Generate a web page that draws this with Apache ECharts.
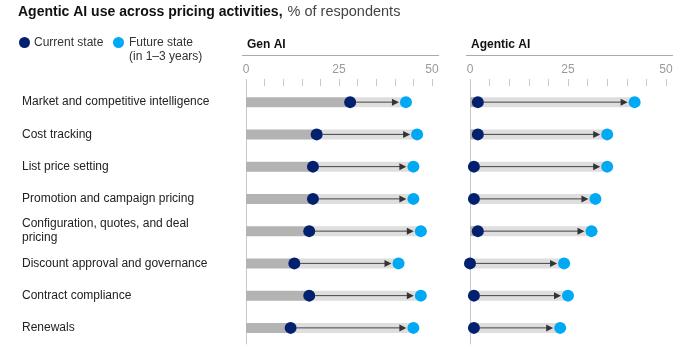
<!DOCTYPE html>
<html>
<head>
<meta charset="utf-8">
<script src="https://cdn.jsdelivr.net/npm/echarts@6/dist/echarts.min.js"></script>
<style>
  html, body { margin: 0; padding: 0; background: #fff; }
  #chart { width: 700px; height: 350px; }
</style>
</head>
<body>
<div id="chart"></div>
<script>
  var categories = [
    'Market and competitive intelligence',
    'Cost tracking',
    'List price setting',
    'Promotion and campaign pricing',
    'Configuration, quotes, and deal\npricing',
    'Discount approval and governance',
    'Contract compliance',
    'Renewals'
  ];
  var genCurrent = [28, 19, 18, 18, 17, 13, 17, 12];
  var genFuture = [43, 46, 45, 45, 47, 41, 47, 45];
  var agentCurrent = [2, 2, 1, 1, 2, 0, 1, 1];
  var agentFuture = [42, 35, 35, 32, 31, 24, 25, 23];
  var tickLabels = [0, 25, 50];

  var navy = '#03206f';
  var sky = '#00a9f4';
  var font = 'Liberation Sans, Arial, sans-serif';

  // arrow from current dot to future dot, in pixel space of the grid
  function arrowItem(params, api) {
    var c = api.coord([api.value(0), api.value(2)]);
    var f = api.coord([api.value(1), api.value(2)]);
    var r = 6;
    var x0 = c[0] + r;
    var x1 = f[0] - r - 1;
    var y = c[1];
    return {
      type: 'group',
      children: [
        {type: 'line', shape: {x1: x0, y1: y, x2: x1 - 5, y2: y}, style: {stroke: '#444', lineWidth: 1}},
        {type: 'polygon', shape: {points: [[x1 - 7, y - 3.5], [x1, y], [x1 - 7, y + 3.5]]}, style: {fill: '#333'}}
      ]
    };
  }

  function seriesFor(idx, cur, fut) {
    var arrows = cur.map(function (v, i) { return [v, fut[i], i]; });
    return [
      {
        type: 'bar', xAxisIndex: idx, yAxisIndex: idx, stack: 's' + idx, barWidth: 10,
        itemStyle: {color: '#b3b3b3'}, data: cur, silent: true
      },
      {
        type: 'bar', xAxisIndex: idx, yAxisIndex: idx, stack: 's' + idx, barWidth: 10,
        itemStyle: {color: '#dedede'}, data: fut.map(function (v, i) { return v - cur[i]; }), silent: true
      },
      {
        type: 'custom', xAxisIndex: idx, yAxisIndex: idx, renderItem: arrowItem,
        encode: {x: [0, 1], y: 2}, data: arrows, z: 3, silent: true
      },
      {
        name: 'Current state', type: 'scatter', xAxisIndex: idx, yAxisIndex: idx, symbolSize: 12, z: 4,
        itemStyle: {color: navy, opacity: 1}, data: cur.map(function (v, i) { return [v, i]; })
      },
      {
        name: 'Future state', type: 'scatter', xAxisIndex: idx, yAxisIndex: idx, symbolSize: 12, z: 4,
        itemStyle: {color: sky, opacity: 1}, data: fut.map(function (v, i) { return [v, i]; })
      }
    ];
  }

  function xAxisFor(idx) {
    return {
      type: 'value', gridIndex: idx, position: 'top', min: 0, max: 50, interval: 5,
      axisLine: {show: false},
      axisTick: {show: true, length: 7, lineStyle: {color: '#c8c8c8'}},
      splitLine: {show: false},
      axisLabel: {
        margin: 10, color: '#9a9a9a', fontSize: 12, fontFamily: font,
        formatter: function (v) { return tickLabels.indexOf(v) >= 0 ? String(v) : ''; }
      }
    };
  }

  function yAxisFor(idx, showLabels) {
    return {
      type: 'category', gridIndex: idx, data: categories, inverse: true,
      axisLine: {show: true, lineStyle: {color: '#c8c8c8', width: 1}},
      axisTick: {show: false},
      axisLabel: showLabels ? {
        show: true, align: 'left', margin: 224, color: '#222', fontSize: 12,
        fontFamily: font, lineHeight: 14
      } : {show: false}
    };
  }

  var chart = echarts.init(document.getElementById('chart'), null, {renderer: 'canvas'});
  chart.setOption({
    animation: false,
    title: {
      left: 18, top: 3, padding: 0,
      text: '{b|Agentic AI use across pricing activities,} {n|% of respondents}',
      textStyle: {
        fontWeight: 'normal',
        rich: {
          b: {fontSize: 14, fontWeight: 'bold', color: '#111', fontFamily: font, lineHeight: 18},
          n: {fontSize: 14.5, fontWeight: 'normal', color: '#444', fontFamily: font, lineHeight: 18}
        }
      }
    },
    grid: [
      {left: 246, width: 186, top: 86, height: 258},
      {left: 470, width: 196, top: 86, height: 258}
    ],
    xAxis: [xAxisFor(0), xAxisFor(1)],
    yAxis: [yAxisFor(0, true), yAxisFor(1, false)],
    series: seriesFor(0, genCurrent, genFuture).concat(seriesFor(1, agentCurrent, agentFuture)),
    graphic: [
      {type: 'circle', shape: {cx: 24.5, cy: 42.5, r: 5.5}, style: {fill: navy}},
      {type: 'text', x: 34, y: 42.5, style: {text: 'Current state', font: '12px ' + font, fill: '#333', verticalAlign: 'middle'}},
      {type: 'circle', shape: {cx: 118.5, cy: 42.5, r: 5.5}, style: {fill: sky}},
      {type: 'text', x: 129, y: 42.5, style: {text: 'Future state', font: '12px ' + font, fill: '#333', verticalAlign: 'middle'}},
      {type: 'text', x: 129, y: 57, style: {text: '(in 1\u20133 years)', font: '12px ' + font, fill: '#333', verticalAlign: 'middle'}},
      {type: 'text', x: 247, y: 44.5, style: {text: 'Gen AI', font: 'bold 12px ' + font, fill: '#111', verticalAlign: 'middle'}},
      {type: 'line', shape: {x1: 242, y1: 55.5, x2: 439, y2: 55.5}, style: {stroke: '#aaa', lineWidth: 1}},
      {type: 'text', x: 471, y: 44.5, style: {text: 'Agentic AI', font: 'bold 12px ' + font, fill: '#111', verticalAlign: 'middle'}},
      {type: 'line', shape: {x1: 466, y1: 55.5, x2: 673, y2: 55.5}, style: {stroke: '#aaa', lineWidth: 1}}
    ]
  });
</script>
</body>
</html>
